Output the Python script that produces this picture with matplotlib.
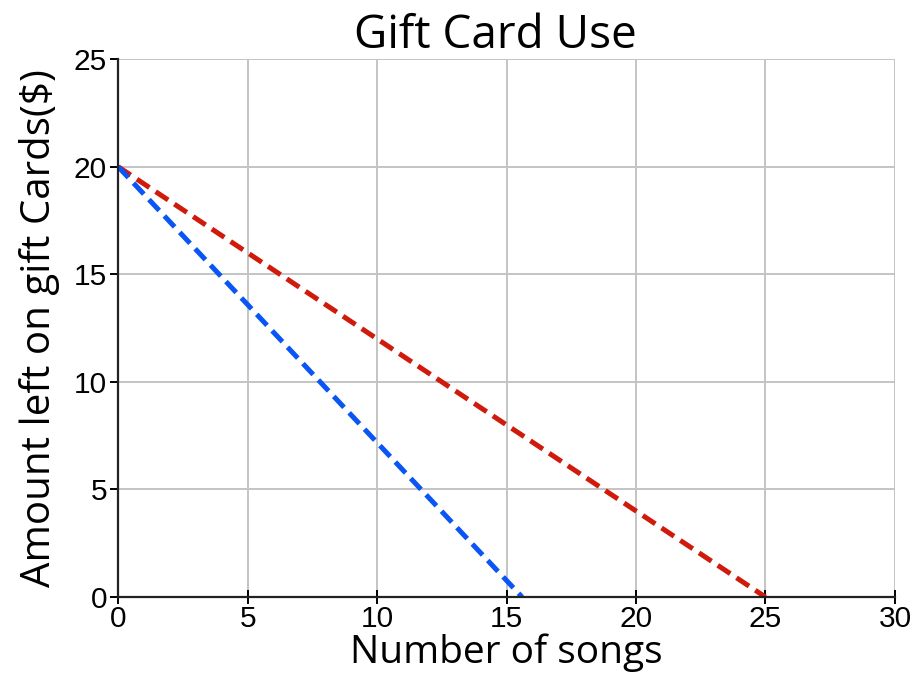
import matplotlib
matplotlib.use("Agg")
import matplotlib.pyplot as plt

# data
songs_blue = [0, 15.6]
amount_blue = [20, 0]
songs_red = [0, 25]
amount_red = [20, 0]

x_ticks = [0, 5, 10, 15, 20, 25, 30]
y_ticks = [0, 5, 10, 15, 20, 25]

fig = plt.figure(figsize=(9.16, 6.8), dpi=100)
ax = fig.add_axes([0.129, 0.122, 0.848, 0.791])

ax.plot(songs_red, amount_red, color="#d01a0c", linestyle=(0, (3, 1.5)), linewidth=3.6)
ax.plot(songs_blue, amount_blue, color="#0a55f5", linestyle=(0, (3, 1.5)), linewidth=3.6)

ax.set_xlim(0, 30)
ax.set_ylim(0, 25)
ax.set_xticks(x_ticks)
ax.set_yticks(y_ticks)
ax.grid(True, color="#c4c4c4", linewidth=1.4)
ax.set_axisbelow(True)

for s in ["top", "right"]:
    ax.spines[s].set_visible(False)
for s in ["left", "bottom"]:
    ax.spines[s].set_color("#222222")
    ax.spines[s].set_linewidth(1.6)

ax.tick_params(axis="x", direction="inout", length=10, width=1.4, pad=1,
               labelsize=21.5)
ax.tick_params(axis="y", direction="out", length=6, width=1.4, pad=2,
               labelsize=21.5)
for lab in ax.get_xticklabels() + ax.get_yticklabels():
    lab.set_family("Liberation Sans")

ax.set_title("Gift Card Use", fontsize=33, family="Open Sans", pad=4, x=0.485)
ax.set_xlabel("Number of songs", fontsize=28, family="Open Sans", labelpad=0)
ax.set_ylabel("Amount left on gift Cards($)", fontsize=29, family="Open Sans",
              labelpad=10)

fig.savefig("out.png", dpi=100)
